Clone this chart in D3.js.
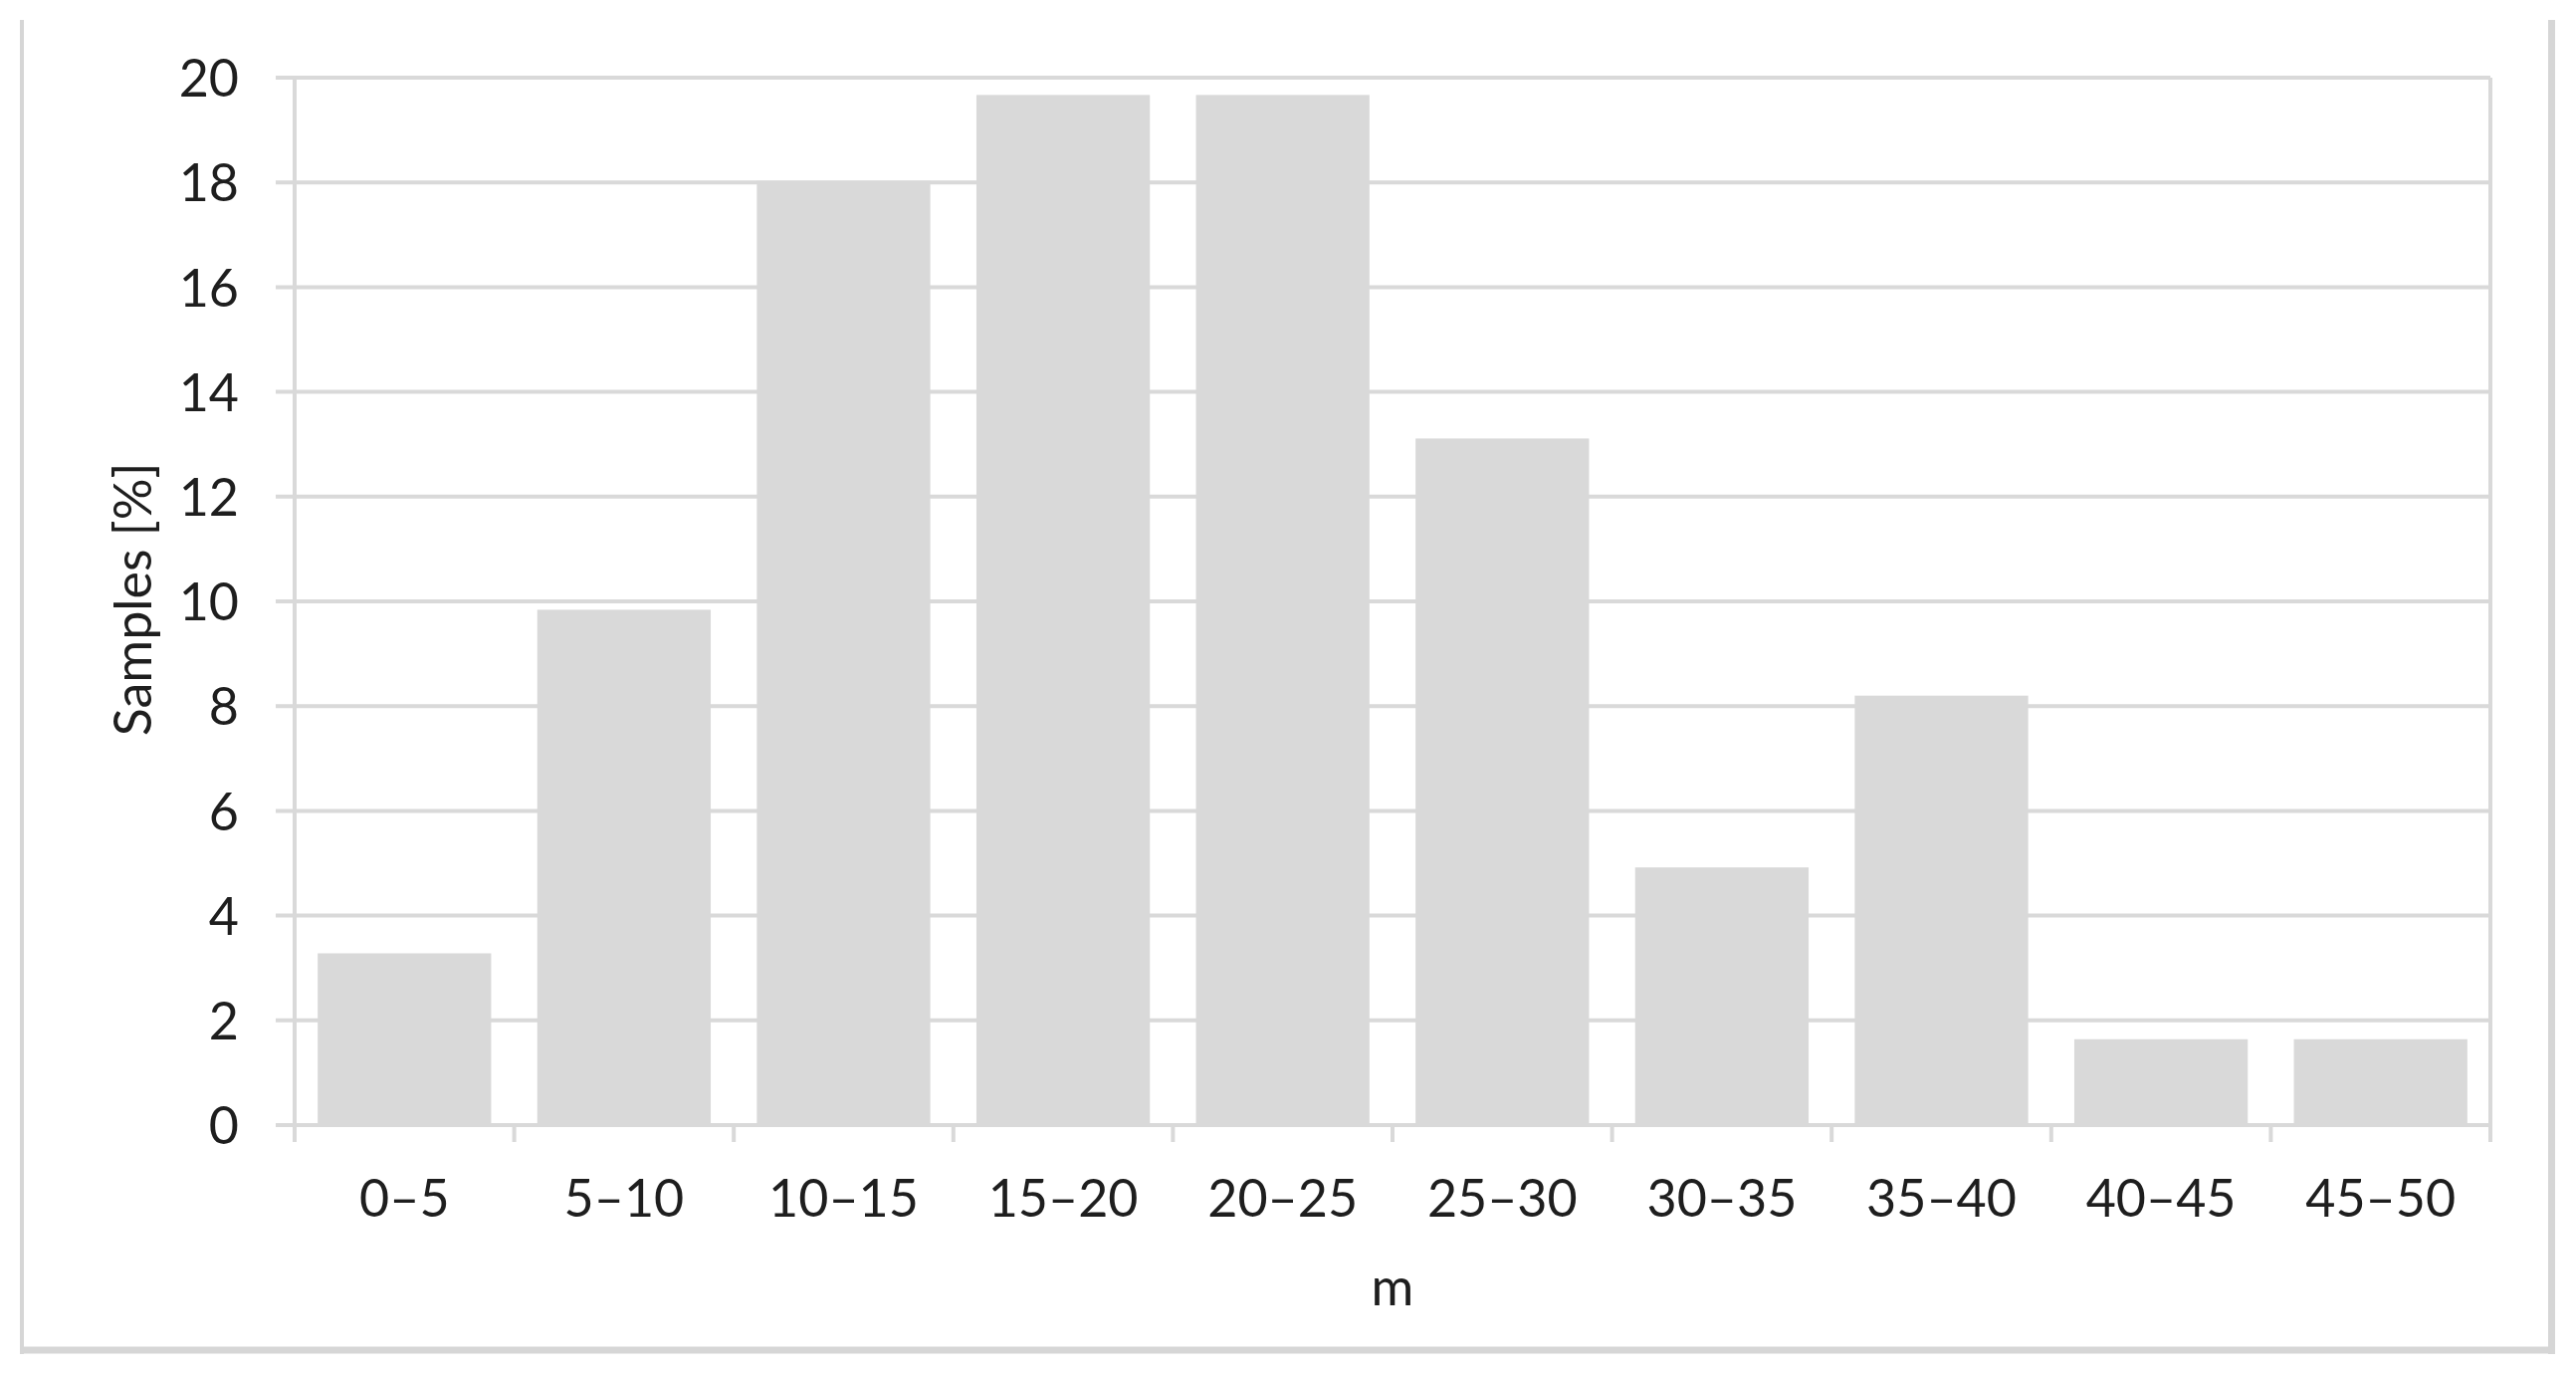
<!DOCTYPE html>
<html>
<head>
<meta charset="utf-8">
<script src="https://cdn.jsdelivr.net/npm/d3@7"></script>
<style>
  html, body { margin: 0; padding: 0; background: #ffffff; }
  svg { display: block; }
  text { font-family: Lato, "Open Sans", sans-serif; fill: #1e1e1e; }
</style>
</head>
<body>
<svg id="chart" width="2588" height="1380"></svg>
<script>
const categories = ["0\u20135", "5\u201310", "10\u201315", "15\u201320", "20\u201325", "25\u201330", "30\u201335", "35\u201340", "40\u201345", "45\u201350"];
const samplesPct = [3.28, 9.84, 18.03, 19.67, 19.67, 13.11, 4.92, 8.20, 1.64, 1.64];
const yTicks = [0, 2, 4, 6, 8, 10, 12, 14, 16, 18, 20];
const xTitle = "m";
const yTitle = "Samples [%]";

const svg = d3.select("#chart");
const W = 2588, H = 1380;
const plot = { left: 296, right: 2502, top: 78, bottom: 1130 };
const gridColor = "#d9d9d9";
const fontSize = 52;

svg.append("rect").attr("width", W).attr("height", H).attr("fill", "#ffffff");

// outer chart frame (left, right, bottom visible)
const frame = svg.append("g");
frame.append("line").attr("x1", 22).attr("x2", 22).attr("y1", 20).attr("y2", 1360)
  .attr("stroke", "#d6d6d6").attr("stroke-width", 4);
frame.append("line").attr("x1", 2563.5).attr("x2", 2563.5).attr("y1", 20).attr("y2", 1360)
  .attr("stroke", "#d6d6d6").attr("stroke-width", 7);
frame.append("line").attr("x1", 20).attr("x2", 2567).attr("y1", 1356).attr("y2", 1356)
  .attr("stroke", "#d6d6d6").attr("stroke-width", 7);

const x = d3.scaleBand().domain(categories).range([plot.left, plot.right])
  .paddingInner(0.21).paddingOuter(0.105);
const y = d3.scaleLinear().domain([0, 20]).range([plot.bottom, plot.top]);

// horizontal gridlines with left tick extension
svg.append("g").selectAll("line").data(yTicks).join("line")
  .attr("x1", plot.left - 19).attr("x2", plot.right)
  .attr("y1", d => y(d)).attr("y2", d => y(d))
  .attr("stroke", gridColor).attr("stroke-width", 4);

// bars
svg.append("g").selectAll("rect").data(categories).join("rect")
  .attr("x", d => x(d))
  .attr("width", x.bandwidth())
  .attr("y", (d, i) => y(samplesPct[i]))
  .attr("height", (d, i) => y(0) - y(samplesPct[i]))
  .attr("fill", "#d9d9d9");

// vertical plot edges + x boundary ticks
const gap = (x.step() - x.bandwidth()) / 2;
const bounds = categories.map(c => x(c) - gap).concat([plot.right]);
svg.append("g").selectAll("line").data(bounds).join("line")
  .attr("x1", d => d).attr("x2", d => d)
  .attr("y1", (d, i) => (i === 0 || i === bounds.length - 1) ? plot.top : plot.bottom)
  .attr("y2", plot.bottom + 17)
  .attr("stroke", gridColor).attr("stroke-width", 4);

// x axis baseline
svg.append("line").attr("x1", plot.left - 19).attr("x2", plot.right)
  .attr("y1", plot.bottom).attr("y2", plot.bottom)
  .attr("stroke", gridColor).attr("stroke-width", 4);

// y axis labels
const yAxis = svg.append("g").attr("transform", `translate(${plot.left},0)`)
  .call(d3.axisLeft(y).tickValues(yTicks).tickSize(0).tickPadding(56).tickFormat(d3.format("d")));
yAxis.select(".domain").remove();
yAxis.selectAll("text").attr("font-size", fontSize).attr("dy", "0.36em")
  .style("font-family", "Lato, 'Open Sans', sans-serif").attr("fill", "#1e1e1e");

// x axis labels
const xAxis = svg.append("g").attr("transform", `translate(0,${plot.bottom})`)
  .call(d3.axisBottom(x).tickSize(0).tickPadding(0));
xAxis.select(".domain").remove();
xAxis.selectAll("text").attr("font-size", fontSize).attr("y", 92).attr("dy", 0)
  .style("font-family", "Lato, 'Open Sans', sans-serif").attr("fill", "#1e1e1e");

// axis titles
svg.append("text").attr("x", (plot.left + plot.right) / 2).attr("y", 1311)
  .attr("text-anchor", "middle").attr("font-size", fontSize).text(xTitle);
svg.append("text")
  .attr("transform", `translate(152,${(plot.top + plot.bottom) / 2 - 2}) rotate(-90)`)
  .attr("text-anchor", "middle").attr("font-size", fontSize).text(yTitle);
</script>
</body>
</html>
